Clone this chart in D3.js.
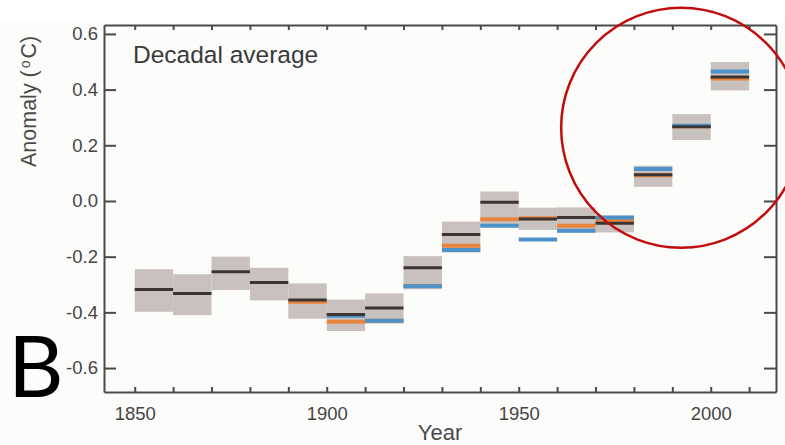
<!DOCTYPE html>
<html>
<head>
<meta charset="utf-8">
<script src="https://cdn.jsdelivr.net/npm/d3@7"></script>
<style>
  html, body { margin: 0; padding: 0; background: #ffffff; }
  svg { display: block; font-family: "Liberation Sans", Arial, sans-serif; }
</style>
</head>
<body>
<svg id="chart" width="785" height="445"></svg>
<script>
// decade start years
const decades = [1850, 1860, 1870, 1880, 1890, 1900, 1910, 1920, 1930, 1940, 1950, 1960, 1970, 1980, 1990, 2000];
// main (black) series and its uncertainty box
const blackVals = [-0.318, -0.332, -0.254, -0.293, -0.356, -0.408, -0.384, -0.240, -0.120, -0.005, -0.065, -0.059, -0.080, 0.094, 0.267, 0.445];
const boxHigh   = [-0.245, -0.263, -0.200, -0.240, -0.296, -0.354, -0.332, -0.198, -0.074, 0.034, -0.024, -0.023, -0.053, 0.127, 0.312, 0.499];
const boxLow    = [-0.398, -0.410, -0.320, -0.357, -0.423, -0.467, -0.440, -0.317, -0.185, -0.092, -0.104, -0.114, -0.113, 0.051, 0.219, 0.397];
// other datasets (null = not shown)
const orangeVals = [null, null, null, null, -0.362, -0.434, -0.430, -0.305, -0.161, -0.066, -0.062, -0.089, -0.072, 0.092, 0.268, 0.440];
const blueVals   = [null, null, null, null, null, -0.412, -0.430, -0.306, -0.176, -0.089, -0.138, -0.107, -0.059, 0.115, 0.270, 0.465];

const yTicks = [0.6, 0.4, 0.2, 0.0, -0.2, -0.4, -0.6];
const xLabelTicks = [1850, 1900, 1950, 2000];

const svg = d3.select('#chart');
const W = 785, H = 445;
const cropTop = 21; // the figure is cropped here, plain white above
const margin = { top: 25, right: 9, bottom: 53, left: 104 };

const x = d3.scaleLinear().domain([1842, 2017]).range([margin.left, W - margin.right]);
const y = d3.scaleLinear().domain([-0.686, 0.632]).range([H - margin.bottom, margin.top]);

svg.append('rect').attr('width', W).attr('height', H).attr('fill', '#ffffff');
svg.append('rect').attr('y', cropTop).attr('width', W).attr('height', H - cropTop).attr('fill', '#fcfcfa');

// ── boxes + lines ──────────────────────────────────────────
const g = svg.append('g');
g.selectAll('rect.box')
  .data(decades)
  .join('rect').attr('class', 'box')
  .attr('x', d => x(d)).attr('width', d => x(d + 10) - x(d))
  .attr('y', (d, i) => y(boxHigh[i]))
  .attr('height', (d, i) => y(boxLow[i]) - y(boxHigh[i]))
  .attr('fill', '#c9c1bd');

function drawLevels(vals, color, width) {
  g.append('g').selectAll('line')
    .data(decades.map((d, i) => [d, vals[i]]).filter(p => p[1] !== null))
    .join('line')
    .attr('x1', p => x(p[0])).attr('x2', p => x(p[0] + 10))
    .attr('y1', p => y(p[1])).attr('y2', p => y(p[1]))
    .attr('stroke', color).attr('stroke-width', width);
}
drawLevels(orangeVals, '#e8843e', 4);
drawLevels(blueVals, '#4d92c9', 4);
drawLevels(blackVals, '#3d3434', 3);

// ── axes ───────────────────────────────────────────────────
const decadeTicks = d3.range(1850, 2011, 10);
const axisColor = '#4a4a4a';

const axBottom = svg.append('g')
  .attr('transform', `translate(0,${H - margin.bottom})`)
  .call(d3.axisBottom(x).tickValues(decadeTicks).tickSizeInner(-5).tickSizeOuter(0).tickPadding(15)
    .tickFormat(d => xLabelTicks.includes(d) ? d : ''));
const axTop = svg.append('g')
  .attr('transform', `translate(0,${margin.top})`)
  .call(d3.axisTop(x).tickValues(decadeTicks).tickSizeInner(-5).tickSizeOuter(0).tickFormat(''));
const axLeft = svg.append('g')
  .attr('transform', `translate(${margin.left},0)`)
  .call(d3.axisLeft(y).tickValues(yTicks).tickSizeInner(-12).tickSizeOuter(0).tickPadding(6)
    .tickFormat(d => d.toFixed(1)));
const axRight = svg.append('g')
  .attr('transform', `translate(${W - margin.right},0)`)
  .call(d3.axisRight(y).tickValues(yTicks).tickSizeInner(-12).tickSizeOuter(0).tickFormat(''));

[axBottom, axTop, axLeft, axRight].forEach(a => {
  a.select('.domain').attr('stroke', axisColor).attr('stroke-width', 2);
  a.selectAll('.tick line').attr('stroke', axisColor).attr('stroke-width', 2);
  a.selectAll('.tick text').attr('fill', '#454545').attr('font-size', 18.5)
    .attr('font-family', '"Liberation Sans", Arial, sans-serif');
});

// axis labels
svg.append('text')
  .attr('x', (margin.left + W - margin.right) / 2).attr('y', 440)
  .attr('text-anchor', 'middle').attr('fill', '#4a4a4a').attr('font-size', 22)
  .text('Year');

const yLab = svg.append('text')
  .attr('transform', 'rotate(-90)')
  .attr('x', -167).attr('y', 36)
  .attr('text-anchor', 'start').attr('fill', '#4a4a4a').attr('font-size', 21.5);
yLab.append('tspan').text('Anomaly (');
yLab.append('tspan').attr('dx', 2).attr('font-size', 14).attr('baseline-shift', '45%').text('o');
yLab.append('tspan').attr('dx', 2).text('C)');

svg.append('text')
  .attr('x', 133).attr('y', 63)
  .attr('fill', '#3a3a3a').attr('font-size', 24.5)
  .text('Decadal average');

// panel letter
svg.append('text')
  .attr('x', 8).attr('y', 397)
  .attr('fill', '#000').attr('font-size', 86).attr('font-family', 'Lato, sans-serif')
  .text('B');

// highlight circle
svg.append('circle')
  .attr('cx', x(1992.3)).attr('cy', y(0.263)).attr('r', 120)
  .attr('fill', 'none').attr('stroke', '#c00d0d').attr('stroke-width', 2.5);
</script>
</body>
</html>
